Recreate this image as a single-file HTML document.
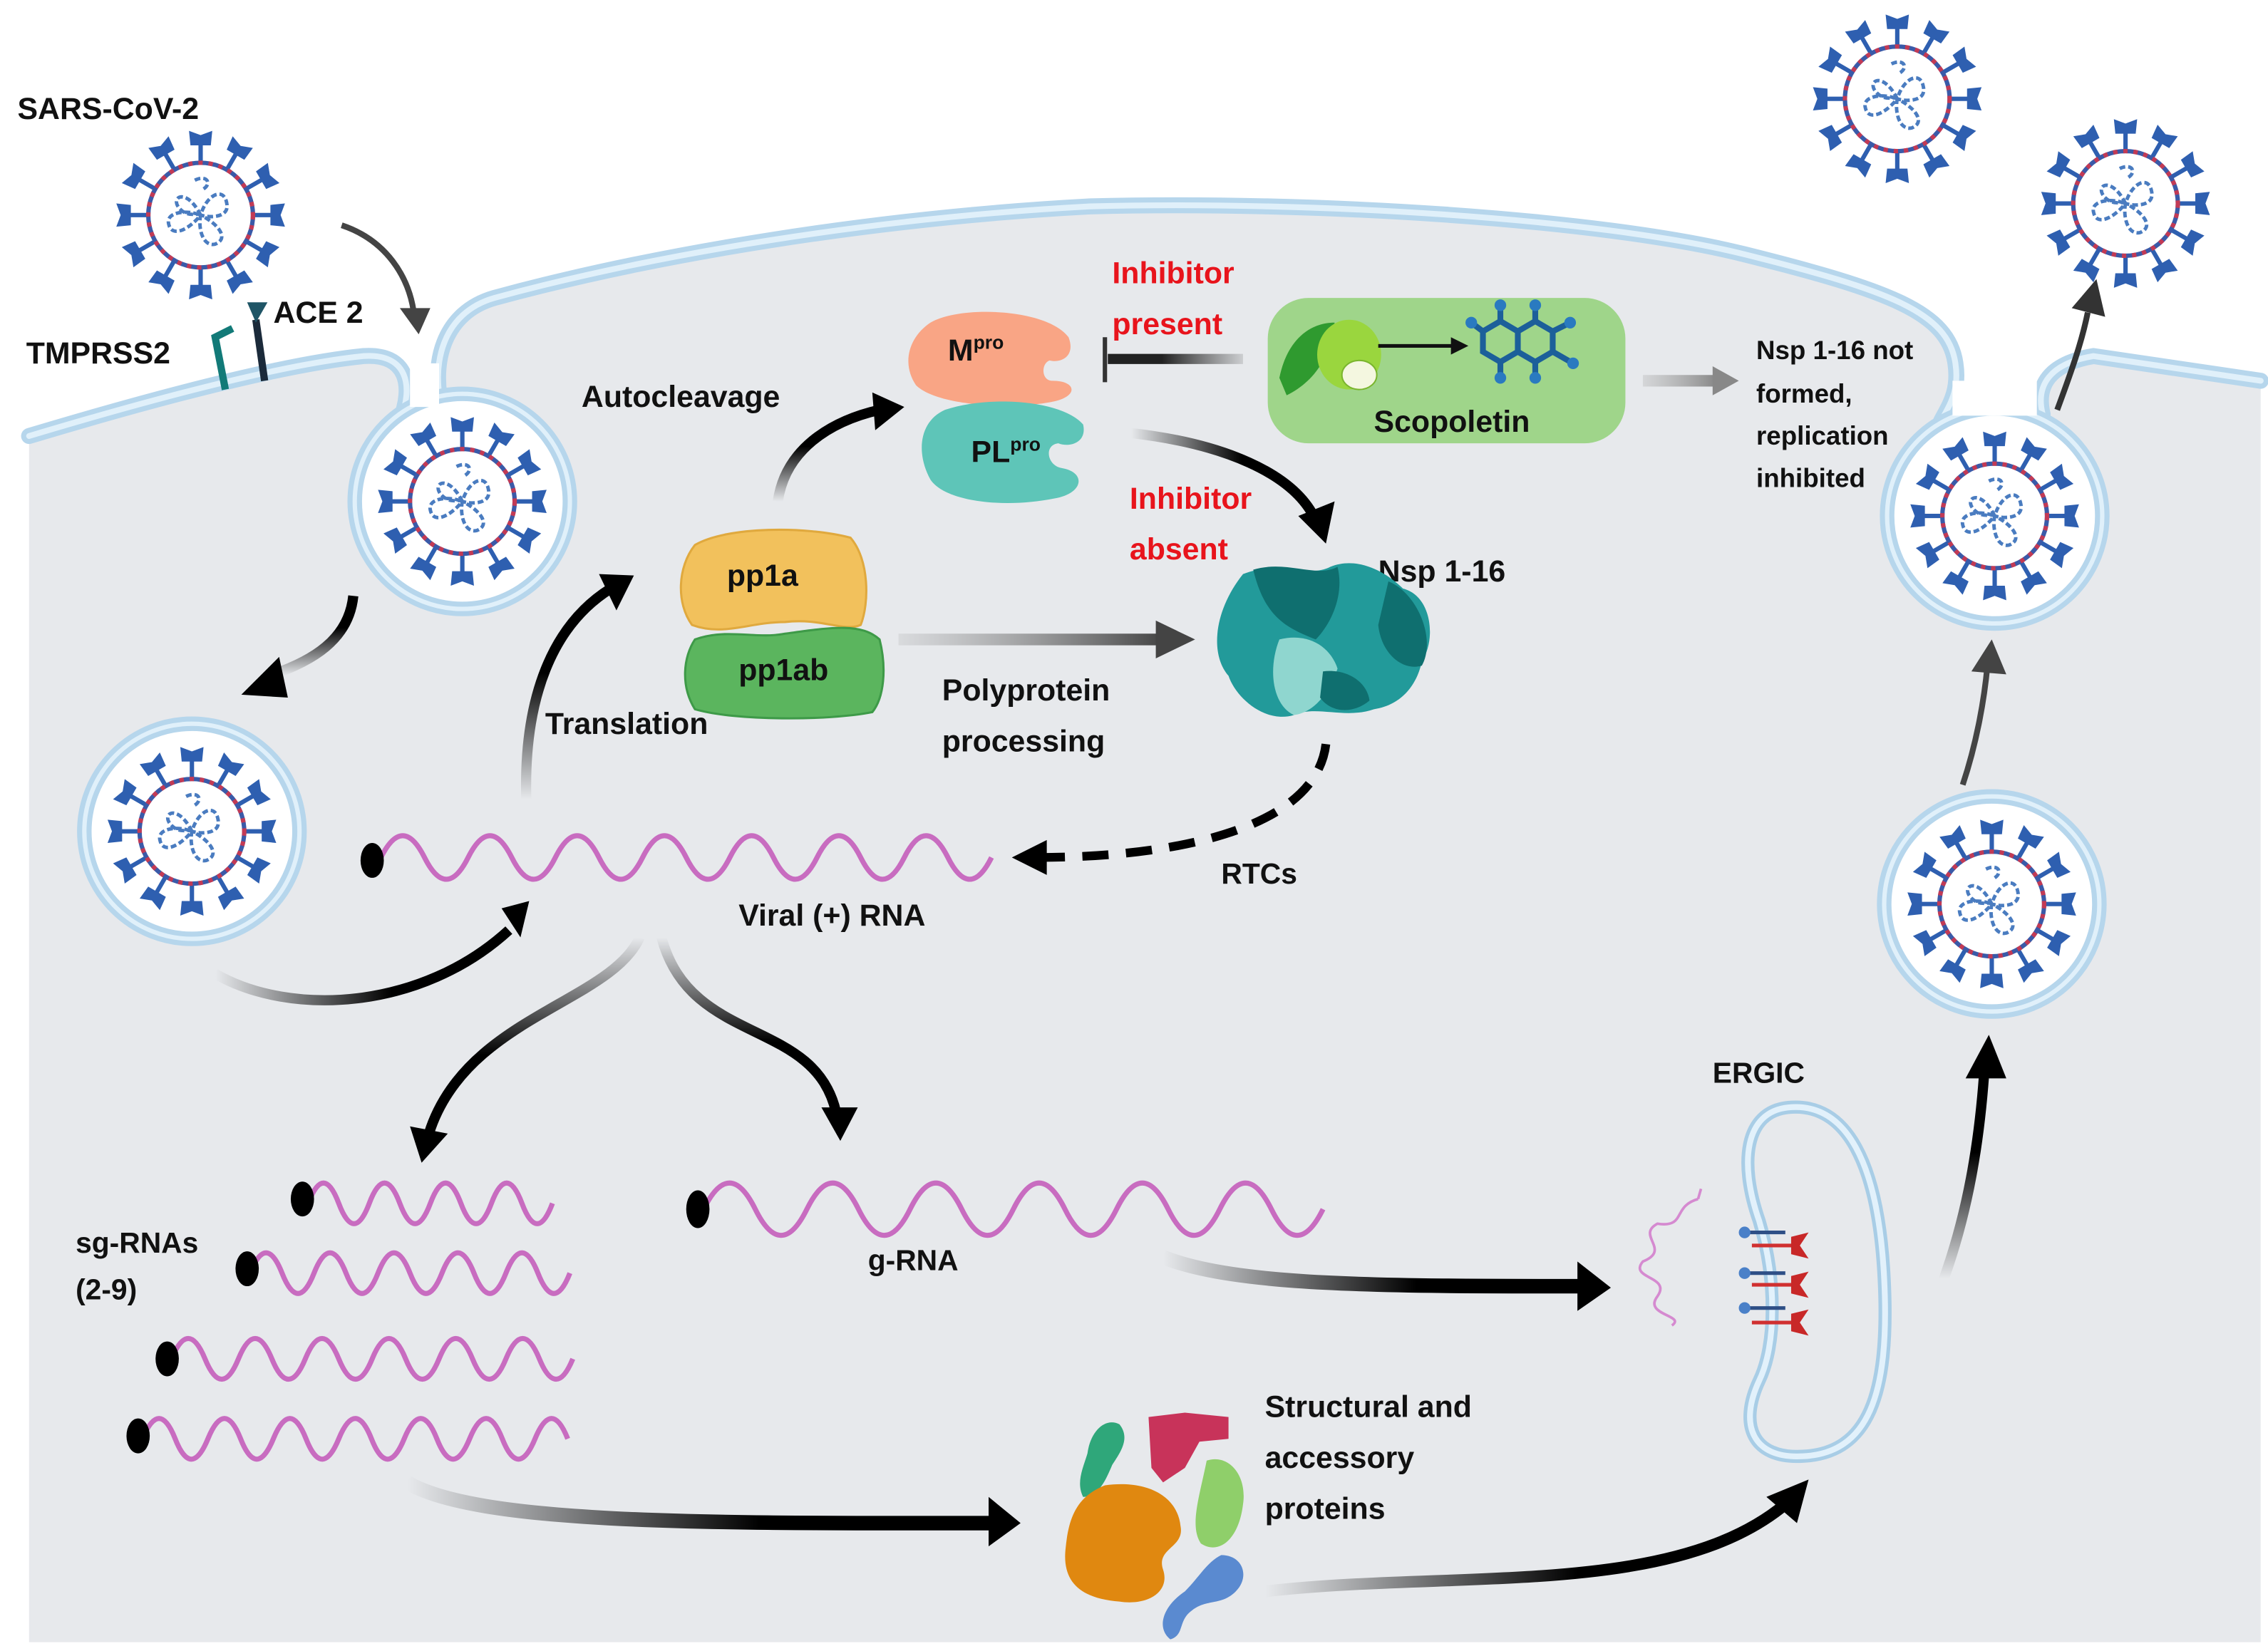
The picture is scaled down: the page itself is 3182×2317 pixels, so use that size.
<!DOCTYPE html>
<html><head><meta charset="utf-8"><style>
html,body{margin:0;padding:0;background:#fff;overflow:hidden;}
svg{display:block;}
text{font-family:"Liberation Sans",sans-serif;font-weight:bold;fill:#111;}
</style></head><body>
<svg width="3182" height="2317" viewBox="0 0 1560 1136" preserveAspectRatio="none" xmlns="http://www.w3.org/2000/svg">
<defs>
<g id="sp"><line x1="36" y1="0" x2="50" y2="0"/><path d="M48 -7 L58 -8 L55 0 L58 8 L48 7 Z" stroke="none"/></g>
<g id="virus">
  <g fill="#2e5fb0" stroke="#2e5fb0" stroke-width="3">
    <use href="#sp"/>
    <use href="#sp" transform="rotate(30)"/><use href="#sp" transform="rotate(60)"/><use href="#sp" transform="rotate(90)"/>
    <use href="#sp" transform="rotate(120)"/><use href="#sp" transform="rotate(150)"/><use href="#sp" transform="rotate(180)"/>
    <use href="#sp" transform="rotate(210)"/><use href="#sp" transform="rotate(240)"/><use href="#sp" transform="rotate(270)"/>
    <use href="#sp" transform="rotate(300)"/><use href="#sp" transform="rotate(330)"/>
  </g>
  <circle r="36" fill="#fff" stroke="#3a5aa8" stroke-width="3"/>
  <circle r="36" fill="none" stroke="#c23a55" stroke-width="3" stroke-dasharray="3 4"/>
  <g fill="none" stroke="#4a7cc0" stroke-width="2.4" stroke-dasharray="4 2">
    <path d="M0 0 C-10 -20 -22 -12 -14 -4 C-8 2 -2 -2 0 0 C4 -14 16 -20 18 -8 C20 2 6 2 0 0 C12 6 20 16 10 20 C2 22 -2 10 0 0 C-8 10 -20 16 -22 6 C-24 -2 -10 -4 0 0"/>
    <path d="M-4 -24 C4 -28 8 -22 2 -18"/>
  </g>
</g>
<linearGradient id="gL" x1="0" y1="0" x2="1" y2="0"><stop offset="0" stop-color="#000" stop-opacity="0"/><stop offset="0.6" stop-color="#000"/></linearGradient>
<linearGradient id="gD" x1="0" y1="1" x2="0" y2="0"><stop offset="0" stop-color="#000" stop-opacity="0"/><stop offset="0.6" stop-color="#000"/></linearGradient>
<linearGradient id="gU" x1="0" y1="0" x2="0" y2="1"><stop offset="0" stop-color="#000" stop-opacity="0"/><stop offset="0.6" stop-color="#000"/></linearGradient>
<linearGradient id="gInh" gradientUnits="userSpaceOnUse" x1="855" y1="0" x2="762" y2="0"><stop offset="0" stop-color="#333" stop-opacity="0.15"/><stop offset="0.6" stop-color="#222"/></linearGradient>
<linearGradient id="gPoly" gradientUnits="userSpaceOnUse" x1="618" y1="0" x2="800" y2="0"><stop offset="0" stop-color="#888" stop-opacity="0.15"/><stop offset="1" stop-color="#444"/></linearGradient>
<linearGradient id="gScop" gradientUnits="userSpaceOnUse" x1="1130" y1="0" x2="1180" y2="0"><stop offset="0" stop-color="#aaa" stop-opacity="0.3"/><stop offset="1" stop-color="#888"/></linearGradient>
</defs>

<!-- cell -->
<rect x="20" y="130" width="1535" height="1000" fill="#e7e9ec"/>
<path d="M0 0 H1560 V262 L1440 245 C1410 250 1400 265 1405 285 L1335 290 C1340 280 1348 270 1345 250 C1340 215 1300 200 1200 175 C1100 150 900 138 750 142 C600 150 450 175 340 205 C305 215 295 250 305 285 L275 290 C285 265 280 243 250 245 C200 250 120 270 20 300 L0 300 Z" fill="#fff"/>
<rect x="1555" y="0" width="5" height="1136" fill="#fff"/>
<rect x="0" y="1130" width="1560" height="6" fill="#fff"/>
<g fill="none" stroke-linecap="round">
  <g stroke="#b6d6ec" stroke-width="11">
    <path d="M20 300 C120 270 200 250 250 245 C280 243 285 265 275 290"/>
    <path d="M305 285 C295 250 305 215 340 205 C450 175 600 150 750 142 C900 138 1100 150 1200 175 C1300 200 1340 215 1345 250 C1348 270 1340 280 1335 290"/>
    <path d="M1405 285 C1400 265 1410 250 1440 245 L1555 262"/>
  </g>
  <g stroke="#e0f0fa" stroke-width="4">
    <path d="M20 300 C120 270 200 250 250 245 C280 243 285 265 275 290"/>
    <path d="M305 285 C295 250 305 215 340 205 C450 175 600 150 750 142 C900 138 1100 150 1200 175 C1300 200 1340 215 1345 250 C1348 270 1340 280 1335 290"/>
    <path d="M1405 285 C1400 265 1410 250 1440 245 L1555 262"/>
  </g>
</g>
<!-- vesicles -->
<g fill="#fff" stroke="#b6d6ec" stroke-width="10">
  <circle cx="318" cy="345" r="74"/><circle cx="1372" cy="355" r="74"/>
  <circle cx="132" cy="572" r="74"/><circle cx="1370" cy="622" r="74"/>
</g>
<g fill="none" stroke="#e0f0fa" stroke-width="3">
  <circle cx="318" cy="345" r="74"/><circle cx="1372" cy="355" r="74"/>
  <circle cx="132" cy="572" r="74"/><circle cx="1370" cy="622" r="74"/>
</g>
<rect x="282" y="250" width="20" height="30" fill="#fff"/>
<rect x="1343" y="262" width="58" height="24" fill="#fff"/>

<!-- viruses -->
<use href="#virus" transform="translate(138 148)"/>
<use href="#virus" transform="translate(318 345)"/>
<use href="#virus" transform="translate(132 572)"/>
<use href="#virus" transform="translate(1370 622)"/>
<use href="#virus" transform="translate(1372 355)"/>
<use href="#virus" transform="translate(1305 68)"/>
<use href="#virus" transform="translate(1462 140)"/>

<!-- receptors -->
<path d="M155 268 L148 232 L160 226" fill="none" stroke="#127a78" stroke-width="5"/>
<path d="M182 262 L176 220" fill="none" stroke="#1b2a3a" stroke-width="5"/>
<path d="M170 208 L176 222 L184 208" fill="#1f5566"/>

<!-- labels -->
<text x="12" y="82" font-size="21">SARS-CoV-2</text>
<text x="188" y="222" font-size="21">ACE 2</text>
<text x="18" y="250" font-size="21">TMPRSS2</text>
<text x="400" y="280" font-size="21">Autocleavage</text>
<text x="375" y="505" font-size="21">Translation</text>
<text x="648" y="482" font-size="21">Polyprotein</text>
<text x="648" y="517" font-size="21">processing</text>
<text x="948" y="400" font-size="21">Nsp 1-16</text>
<text x="840" y="608" font-size="20">RTCs</text>
<text x="508" y="637" font-size="21">Viral (+) RNA</text>
<text x="52" y="862" font-size="20">sg-RNAs</text>
<text x="52" y="894" font-size="20">(2-9)</text>
<text x="597" y="874" font-size="20">g-RNA</text>
<text x="1178" y="745" font-size="20">ERGIC</text>
<text x="870" y="975" font-size="21">Structural and</text>
<text x="870" y="1010" font-size="21">accessory</text>
<text x="870" y="1045" font-size="21">proteins</text>
<text x="1208" y="247" font-size="18">Nsp 1-16 not</text>
<text x="1208" y="277" font-size="18">formed,</text>
<text x="1208" y="306" font-size="18">replication</text>
<text x="1208" y="335" font-size="18">inhibited</text>
<text x="765" y="195" font-size="21" style="fill:#e8141c">Inhibitor</text>
<text x="765" y="230" font-size="21" style="fill:#e8141c">present</text>
<text x="777" y="350" font-size="21" style="fill:#e8141c">Inhibitor</text>
<text x="777" y="385" font-size="21" style="fill:#e8141c">absent</text>

<!-- Mpro / PLpro -->
<path d="M640 222 C660 210 720 212 735 232 C740 245 730 250 722 248 C716 250 716 262 724 262 C740 262 742 272 726 276 C700 282 645 280 630 265 C620 250 625 232 640 222 Z" fill="#f9a585"/>
<path d="M650 282 C680 272 730 275 745 292 C748 305 735 308 728 305 C718 306 720 320 730 322 C748 325 745 340 725 343 C690 350 650 345 640 330 C630 312 632 290 650 282 Z" fill="#5ec5b8"/>
<text x="652" y="248" font-size="21">M<tspan font-size="13" dy="-8">pro</tspan></text>
<text x="668" y="318" font-size="21">PL<tspan font-size="13" dy="-8">pro</tspan></text>

<!-- pp1a / pp1ab -->
<path d="M478 375 C500 362 555 362 585 370 C598 385 598 415 592 430 C580 435 565 425 540 428 C515 428 498 438 476 430 C465 415 466 390 478 375 Z" fill="#f2c15c" stroke="#e0a93e" stroke-width="1.5"/>
<path d="M478 440 C500 432 520 440 540 436 C570 432 592 428 605 440 C610 460 608 480 600 490 C570 496 505 496 478 488 C468 472 470 452 478 440 Z" fill="#5bb55e" stroke="#3e9a48" stroke-width="1.5"/>
<text x="500" y="403" font-size="21">pp1a</text>
<text x="508" y="468" font-size="21">pp1ab</text>

<!-- Nsp blob -->
<path d="M855 395 C880 385 900 398 915 390 C935 382 955 395 965 405 C985 410 988 440 978 455 C975 470 965 485 945 488 C925 495 905 485 890 492 C870 498 850 480 845 465 C832 450 835 420 855 395 Z" fill="#229a9a"/>
<path d="M862 392 C885 385 905 398 920 390 C925 410 915 430 905 440 C885 432 870 425 862 392 Z" fill="#0f6f6f"/>
<path d="M955 400 C975 408 988 440 978 458 C965 462 950 450 948 430 Z" fill="#0f6f6f"/>
<path d="M880 440 C900 435 915 445 920 460 C915 475 905 490 890 492 C875 485 872 460 880 440 Z" fill="#8fd6cf"/>
<path d="M910 462 C925 460 940 468 942 482 C930 492 915 490 908 480 Z" fill="#0f6f6f"/>

<!-- Scopoletin box -->
<rect x="872" y="205" width="246" height="100" rx="28" fill="#9fd58a"/>
<path d="M880 260 C885 235 900 222 918 222 C915 245 905 262 885 272 Z" fill="#2f9a2f"/>
<ellipse cx="928" cy="244" rx="22" ry="24" fill="#9ad63e"/>
<ellipse cx="935" cy="258" rx="12" ry="10" fill="#f4f7e0" stroke="#7ab52e"/>
<line x1="948" y1="238" x2="1000" y2="238" stroke="#111" stroke-width="2.5"/>
<path d="M998 232 L1010 238 L998 244 Z" fill="#111"/>
<g fill="none" stroke="#1c5f9a" stroke-width="4">
  <path d="M1020 228 L1032 221 L1044 228 L1044 242 L1032 249 L1020 242 Z"/>
  <path d="M1044 228 L1056 221 L1068 228 L1068 242 L1056 249 L1044 242"/>
  <path d="M1032 221 L1032 210 M1056 221 L1056 210 M1068 228 L1080 222 M1068 242 L1082 250 M1032 249 L1032 260 M1056 249 L1056 260 M1020 228 L1012 222"/>
</g>
<g fill="#2a7ac0"><circle cx="1032" cy="210" r="4"/><circle cx="1056" cy="210" r="4"/><circle cx="1080" cy="222" r="4"/><circle cx="1082" cy="250" r="4"/><circle cx="1032" cy="260" r="4"/><circle cx="1056" cy="260" r="4"/><circle cx="1012" cy="222" r="4"/></g>
<text x="945" y="297" font-size="21">Scopoletin</text>

<!-- RNA waves -->
<g fill="none" stroke="#c86cc0" stroke-width="3.5">
  <path d="M262 590 q15 -30 30 0 t30 0 t30 0 t30 0 t30 0 t30 0 t30 0 t30 0 t30 0 t30 0 t30 0 t30 0 t30 0 t30 0"/>
  <path d="M212 828 q10.5 -28 21 0 t21 0 t21 0 t21 0 t21 0 t21 0 t21 0 t21 0"/>
  <path d="M172 876 q11 -28 22 0 t22 0 t22 0 t22 0 t22 0 t22 0 t22 0 t22 0 t22 0 t22 0"/>
  <path d="M118 935 q11.5 -28 23 0 t23 0 t23 0 t23 0 t23 0 t23 0 t23 0 t23 0 t23 0 t23 0 t23 0 t23 0"/>
  <path d="M98 990 q11.5 -28 22.5 0 t22.5 0 t22.5 0 t22.5 0 t22.5 0 t22.5 0 t22.5 0 t22.5 0 t22.5 0 t22.5 0 t22.5 0 t22.5 0 t22.5 0"/>
  <path d="M484 832 q17.75 -36 35.5 0 t35.5 0 t35.5 0 t35.5 0 t35.5 0 t35.5 0 t35.5 0 t35.5 0 t35.5 0 t35.5 0 t35.5 0 t35.5 0"/>
</g>
<g fill="#000">
  <ellipse cx="256" cy="592" rx="8" ry="12"/><ellipse cx="208" cy="825" rx="8" ry="12"/>
  <ellipse cx="170" cy="873" rx="8" ry="12"/><ellipse cx="115" cy="935" rx="8" ry="12"/>
  <ellipse cx="95" cy="988" rx="8" ry="12"/><ellipse cx="480" cy="832" rx="8" ry="13"/>
</g>

<!-- ERGIC -->
<path d="M1230 762 C1270 758 1292 800 1296 880 C1300 960 1285 1000 1240 1002 C1205 1004 1196 980 1210 950 C1222 925 1222 880 1210 840 C1196 800 1200 765 1230 762 Z" fill="none" stroke="#a8cde6" stroke-width="9"/>
<path d="M1230 762 C1270 758 1292 800 1296 880 C1300 960 1285 1000 1240 1002 C1205 1004 1196 980 1210 950 C1222 925 1222 880 1210 840 C1196 800 1200 765 1230 762 Z" fill="none" stroke="#e2f1fb" stroke-width="4"/>
<g stroke-width="2.5">
  <line x1="1200" y1="848" x2="1228" y2="848" stroke="#2e4f86"/><circle cx="1200" cy="848" r="4" fill="#4a80c8"/>
  <line x1="1200" y1="876" x2="1228" y2="876" stroke="#2e4f86"/><circle cx="1200" cy="876" r="4" fill="#4a80c8"/>
  <line x1="1200" y1="900" x2="1228" y2="900" stroke="#2e4f86"/><circle cx="1200" cy="900" r="4" fill="#4a80c8"/>
  <line x1="1205" y1="857" x2="1235" y2="857" stroke="#d03030"/><path d="M1232 851 L1244 848 L1238 857 L1244 866 L1232 863 Z" fill="#c82828"/>
  <line x1="1205" y1="884" x2="1235" y2="884" stroke="#d03030"/><path d="M1232 878 L1244 875 L1238 884 L1244 893 L1232 890 Z" fill="#c82828"/>
  <line x1="1205" y1="910" x2="1235" y2="910" stroke="#d03030"/><path d="M1232 904 L1244 901 L1238 910 L1244 919 L1232 916 Z" fill="#c82828"/>
</g>
<path d="M1168 825 C1150 830 1160 845 1140 842 C1125 850 1150 860 1130 868 C1120 880 1150 878 1140 892 C1130 905 1160 905 1150 912 M1168 825 L1170 818" fill="none" stroke="#d58ad0" stroke-width="1.8"/>

<!-- structural proteins -->
<path d="M748 1000 C750 985 760 975 770 980 C778 990 770 1000 765 1008 C760 1020 755 1030 745 1030 C740 1020 745 1010 748 1000 Z" fill="#2fa77a"/>
<path d="M790 975 L815 972 L845 975 L845 990 L825 992 L815 1010 L800 1020 L792 1010 Z" fill="#c8335a"/>
<path d="M830 1005 C845 1000 858 1015 855 1035 C852 1060 838 1070 826 1062 C818 1050 825 1030 830 1005 Z" fill="#8fcf6a"/>
<path d="M760 1022 C790 1018 810 1030 812 1050 C815 1065 795 1065 800 1080 C805 1095 790 1105 770 1102 C745 1100 730 1090 733 1065 C735 1045 740 1030 760 1022 Z" fill="#e08810"/>
<path d="M840 1070 C855 1070 860 1085 850 1095 C840 1105 830 1100 820 1108 C810 1115 815 1125 805 1128 C795 1120 800 1105 815 1095 C825 1085 830 1075 840 1070 Z" fill="#5a8ad0"/>

<!-- arrows -->
<g fill="none" stroke-linecap="butt">
  <path d="M235 155 C265 165 282 190 285 218" stroke="#444" stroke-width="4"/>
  <path d="M243 410 C240 440 215 455 185 465" stroke="url(#gD)" stroke-width="7"/>
  <path d="M148 670 C200 700 290 695 350 640" stroke="url(#gL)" stroke-width="7"/>
  <path d="M362 550 C360 480 380 430 420 405" stroke="url(#gD)" stroke-width="7"/>
  <path d="M535 345 C540 310 570 290 605 282" stroke="url(#gD)" stroke-width="7"/>
  <path d="M855 247 L762 247" stroke="url(#gInh)" stroke-width="7"/>
  <line x1="760" y1="232" x2="760" y2="263" stroke="#333" stroke-width="3"/>
  <path d="M778 298 C840 305 890 325 905 358" stroke="url(#gL)" stroke-width="7"/>
  <path d="M618 440 L800 440" stroke="url(#gPoly)" stroke-width="8"/>
  <path d="M912 512 C905 570 810 590 712 590" stroke="#000" stroke-width="6" stroke-dasharray="18 12"/>
  <path d="M1130 262 L1180 262" stroke="url(#gScop)" stroke-width="8"/>
  <path d="M440 645 C420 690 320 700 295 780" stroke="url(#gU)" stroke-width="7"/>
  <path d="M455 645 C475 720 560 700 575 765" stroke="url(#gU)" stroke-width="7"/>
  <path d="M800 865 C850 885 950 885 1090 885" stroke="url(#gL)" stroke-width="10"/>
  <path d="M280 1020 C330 1050 500 1048 685 1048" stroke="url(#gL)" stroke-width="10"/>
  <path d="M870 1095 C1000 1080 1150 1100 1228 1035" stroke="url(#gL)" stroke-width="8"/>
  <path d="M1337 880 C1355 830 1362 780 1365 735" stroke="url(#gD)" stroke-width="7"/>
  <path d="M1350 540 C1360 510 1365 480 1367 458" stroke="#444" stroke-width="4"/>
  <path d="M1415 282 C1425 255 1432 235 1436 215" stroke="#333" stroke-width="4"/>
</g>
<g fill="#000">
  <path d="M275 212 L296 212 L288 230 Z" fill="#444"/>
  <path d="M192 452 L166 478 L198 480 Z"/>
  <path d="M345 625 L364 620 L358 645 Z"/>
  <path d="M412 395 L436 396 L424 420 Z"/>
  <path d="M600 270 L622 280 L602 296 Z"/>
  <path d="M893 355 L918 345 L912 374 Z"/>
  <path d="M795 427 L822 440 L795 453 Z" fill="#444"/>
  <path d="M720 578 L696 590 L720 602 Z"/>
  <path d="M1178 252 L1196 262 L1178 272 Z" fill="#888"/>
  <path d="M282 775 L308 780 L290 800 Z"/>
  <path d="M565 762 L590 762 L578 785 Z"/>
  <path d="M1085 868 L1108 886 L1085 902 Z"/>
  <path d="M680 1030 L702 1048 L680 1064 Z"/>
  <path d="M1215 1030 L1244 1018 L1236 1048 Z"/>
  <path d="M1352 742 L1368 712 L1380 742 Z"/>
  <path d="M1356 462 L1370 440 L1380 464 Z" fill="#444"/>
  <path d="M1425 212 L1442 192 L1448 218 Z" fill="#333"/>
</g>
</svg>
</body></html>
